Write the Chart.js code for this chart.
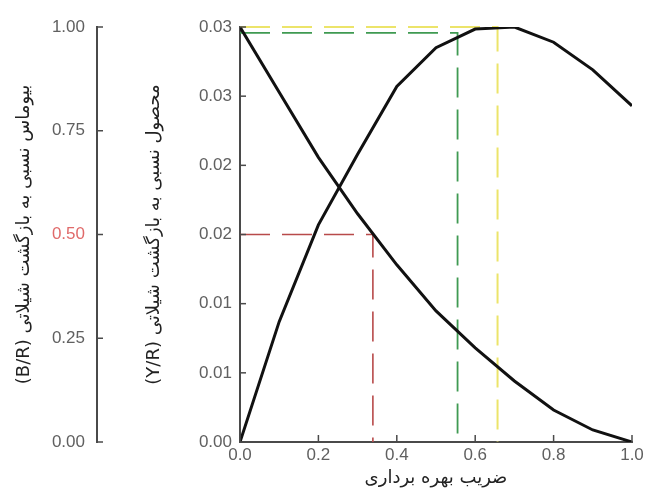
<!DOCTYPE html>
<html>
<head>
<meta charset="utf-8">
<script src="https://cdn.jsdelivr.net/npm/chart.js@4.4.1/dist/chart.umd.min.js"></script>
<style>
  html, body { margin: 0; padding: 0; background: #ffffff; }
  #wrap { width: 648px; height: 503px; }
</style>
</head>
<body>
<div id="wrap"><canvas id="chart" width="648" height="503"></canvas></div>
<script>
// exploitation rate (x) and the two relative curves
const exploitationRate = [0, 0.1, 0.2, 0.3, 0.4, 0.5, 0.6, 0.7, 0.8, 0.9, 1.0];
const biomassPerRecruit = [1.0, 0.843, 0.686, 0.55, 0.427, 0.316, 0.227, 0.147, 0.077, 0.029, 0.0];
const yieldPerRecruit = [0, 0.0087, 0.0157, 0.0208, 0.0257, 0.0285, 0.02985, 0.03, 0.0289, 0.0269, 0.0243];

const xTicks = [0, 0.2, 0.4, 0.6, 0.8, 1.0];
const yieldTicks = [0, 0.005, 0.01, 0.015, 0.02, 0.025, 0.03];
const yieldTickLabels = ["0.00", "0.01", "0.01", "0.02", "0.02", "0.03", "0.03"];
const biomassTicks = [0, 0.25, 0.5, 0.75, 1.0];
const biomassTickLabels = ["0.00", "0.25", "0.50", "0.75", "1.00"];

// reference points: E0.5 (half biomass), E0.1 and Emax
const e05 = { x: 0.339, y: 0.5 };
const e01 = { x: 0.555, y: 0.02957 };
const emax = { x: 0.657, y: 0.03 };

const TICK_COLOR = "#606060";
const AXIS_COLOR = "#4a4a4a";
const NUM_FONT = { family: "'Liberation Sans', Arial, sans-serif", size: 17 };
const TITLE_FONT = { family: "'DejaVu Sans', sans-serif", size: 18 };

function toPoints(xs, ys) {
  return xs.map((x, i) => ({ x: x, y: ys[i] }));
}

function refLine(p) {
  return [{ x: 0, y: p.y }, { x: p.x, y: p.y }, { x: p.x, y: 0 }];
}

// short tick marks pointing into the plot, as in the original figure
const inwardTicks = {
  id: "inwardTicks",
  afterDraw(chart) {
    const ctx = chart.ctx;
    ctx.save();
    ctx.strokeStyle = AXIS_COLOR;
    ctx.lineWidth = 1.5;
    ["x", "y", "yB"].forEach((id) => {
      const scale = chart.scales[id];
      scale.ticks.forEach((t) => {
        const p = scale.getPixelForValue(t.value);
        ctx.beginPath();
        if (id === "x") {
          ctx.moveTo(p, scale.top);
          ctx.lineTo(p, scale.top - 7);
        } else {
          ctx.moveTo(scale.right, p);
          ctx.lineTo(scale.right + 6, p);
        }
        ctx.stroke();
      });
    });
    ctx.restore();
  }
};

new Chart(document.getElementById("chart").getContext("2d"), {
  type: "line",
  data: {
    datasets: [
      {
        label: "B/R",
        data: toPoints(exploitationRate, biomassPerRecruit),
        yAxisID: "yB",
        borderColor: "#111111",
        borderWidth: 3,
        pointRadius: 0,
        tension: 0
      },
      {
        label: "Y/R",
        data: toPoints(exploitationRate, yieldPerRecruit),
        yAxisID: "y",
        borderColor: "#111111",
        borderWidth: 3,
        pointRadius: 0,
        tension: 0
      },
      {
        label: "E0.5",
        data: refLine(e05),
        yAxisID: "yB",
        borderColor: "#b84a4a",
        borderWidth: 1.6,
        borderDash: [30, 12],
        pointRadius: 0,
        tension: 0
      },
      {
        label: "E0.1",
        data: refLine(e01),
        yAxisID: "y",
        borderColor: "#3f9a52",
        borderWidth: 1.8,
        borderDash: [30, 12],
        pointRadius: 0,
        tension: 0
      },
      {
        label: "Emax",
        data: refLine(emax),
        yAxisID: "y",
        borderColor: "#ece46a",
        borderWidth: 2,
        borderDash: [30, 12],
        pointRadius: 0,
        tension: 0,
        clip: 4
      }
    ]
  },
  options: {
    responsive: false,
    animation: false,
    layout: { padding: { top: 27, right: 16, bottom: 0, left: 0 } },
    plugins: {
      legend: { display: false },
      tooltip: { enabled: false }
    },
    scales: {
      x: {
        type: "linear",
        position: "bottom",
        min: 0,
        max: 1,
        afterBuildTicks(scale) {
          scale.ticks = xTicks.map((v) => ({ value: v }));
        },
        afterFit(scale) {
          scale.height = 61;
          scale.paddingLeft = 0;
          scale.paddingRight = 0;
        },
        grid: { display: false, drawTicks: false },
        border: { color: AXIS_COLOR, width: 2 },
        ticks: {
          color: TICK_COLOR,
          font: NUM_FONT,
          padding: 3,
          maxRotation: 0,
          callback(value) {
            return value.toFixed(1);
          }
        },
        title: {
          display: true,
          text: "ضریب بهره برداری",
          color: "#222222",
          font: TITLE_FONT,
          padding: { top: 0, bottom: 14 }
        }
      },
      y: {
        type: "linear",
        position: "left",
        weight: 0,
        min: 0,
        max: 0.03,
        afterBuildTicks(scale) {
          scale.ticks = yieldTicks.map((v) => ({ value: v }));
        },
        afterFit(scale) {
          scale.width = 143;
          scale.paddingTop = 0;
          scale.paddingBottom = 0;
        },
        grid: { display: false, drawTicks: false },
        border: { color: AXIS_COLOR, width: 2 },
        ticks: {
          color: TICK_COLOR,
          font: NUM_FONT,
          padding: 8,
          callback(value, index) {
            return yieldTickLabels[index];
          }
        },
        title: {
          display: true,
          text: "(Y/R) محصول نسبی به بازگشت شیلاتی",
          color: "#222222",
          font: TITLE_FONT,
          padding: { top: 47, bottom: 0 }
        }
      },
      yB: {
        type: "linear",
        position: "left",
        weight: 1,
        min: 0,
        max: 1,
        afterBuildTicks(scale) {
          scale.ticks = biomassTicks.map((v) => ({ value: v }));
        },
        afterFit(scale) {
          scale.width = 97;
          scale.paddingTop = 0;
          scale.paddingBottom = 0;
        },
        grid: { display: false, drawTicks: false },
        border: { color: AXIS_COLOR, width: 2 },
        ticks: {
          font: NUM_FONT,
          padding: 12,
          color(ctx) {
            return ctx.tick && ctx.tick.value === 0.5 ? "#e06a6a" : TICK_COLOR;
          },
          callback(value, index) {
            return biomassTickLabels[index];
          }
        },
        title: {
          display: true,
          text: "(B/R) بیوماس نسبی به بازگشت شیلاتی",
          color: "#222222",
          font: TITLE_FONT,
          padding: { top: 14, bottom: 0 }
        }
      }
    }
  },
  plugins: [inwardTicks]
});
</script>
</body>
</html>
